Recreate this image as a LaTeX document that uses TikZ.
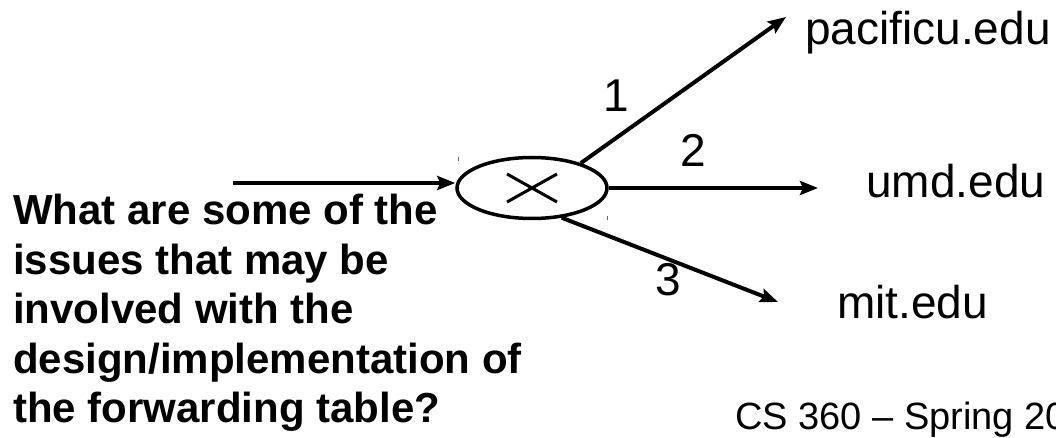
\documentclass[tikz,border=0pt]{standalone}
\usepackage{fontspec}
\setmainfont{Liberation Sans}
\usetikzlibrary{shapes.geometric,arrows.meta}
\tikzset{
  conn/.style={line width=4pt,-{Stealth[length=18pt,width=14pt,inset=3pt]}},
  lbl/.style={inner sep=0pt,anchor=base west,font=\fontsize{46}{55}\selectfont},
  qline/.style={inner sep=0pt,anchor=base west,font=\fontsize{42}{49}\selectfont\bfseries},
  foot/.style={inner sep=0pt,anchor=base west,font=\fontsize{38}{44}\selectfont},
  tick/.style={line width=1pt,black!60}
}
\begin{document}
\begin{tikzpicture}[x=1pt,y=-1pt]
\useasboundingbox (0,0) rectangle (1056,438);
% switch
\node[draw,ellipse,line width=3.5pt,minimum width=150pt,minimum height=61pt,inner sep=0pt] (sw) at (532,188) {};
\coordinate (xa) at (507,174);
\coordinate (xb) at (557,202);
\coordinate (xc) at (507,202);
\coordinate (xd) at (557,174);
\draw[line width=3pt] (xa) -- (xb) (xc) -- (xd);
\draw[tick] (458,157) -- (458,161);
\draw[tick] (607,216) -- (607,220);
% connectors
\coordinate (in) at (233,183);
\coordinate (t1) at (786,17);
\coordinate (t2) at (818,188);
\coordinate (t3) at (778,302);
\draw[conn] (in) -- (in -| sw.west);
\draw[conn] (sw.27) -- (t1);
\draw[conn] (sw.east) -- (t2);
\draw[conn] (sw.-45) -- (t3);
% labels
\node[lbl] (l1) at (603,112) {1};
\node[lbl] (l2) at (680,167) {2};
\node[lbl] (l3) at (655,295) {3};
\node[lbl] (d1) at (805,45) {pacificu.edu};
\node[lbl] (d2) at (866,198) {umd.edu};
\node[lbl] (d3) at (837,318) {mit.edu};
% question
\node[qline] (q1) at (13,225) {What are some of the};
\node[qline] (q2) at (13,274) {issues that may be};
\node[qline] (q3) at (13,323) {involved with the};
\node[qline] (q4) at (13,373) {design/implementation of};
\node[qline] (q5) at (13,422) {the forwarding table?};
\node[foot] (ft) at (735,429) {CS 360 – Spring 20};
\end{tikzpicture}
\end{document}
